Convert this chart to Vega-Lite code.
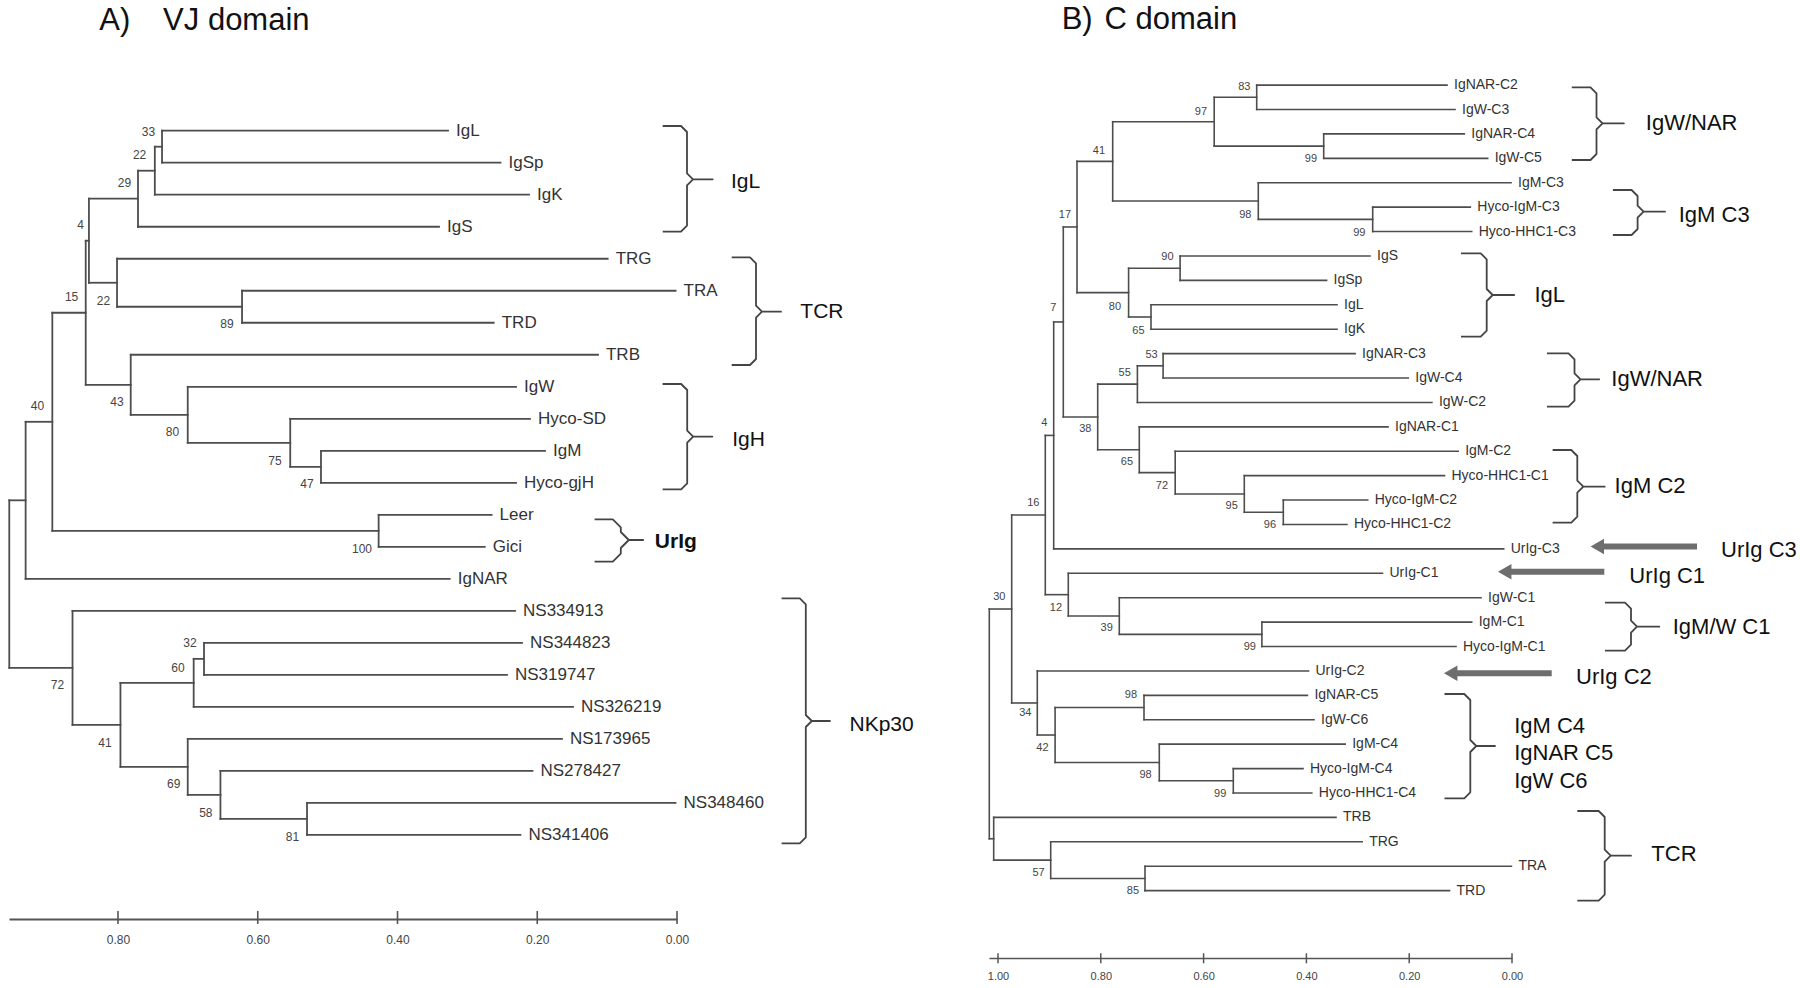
{
  "$schema": "https://vega.github.io/schema/vega-lite/v6.json",
  "background": "white",
  "padding": {"left": 8, "top": 0, "right": 0, "bottom": 0},
  "autosize": {"type": "pad"},
  "bounds": "flush",
  "spacing": 312,
  "config": {"view": {"stroke": null}, "font": "Liberation Sans"},
  "datasets": {
    "segA": [
      {"x":0.9556,"x2":0.9556,"y":11.547,"y2":16.78},
      {"x":0.9556,"x2":0.9322,"y":11.547,"y2":11.547},
      {"x":0.9556,"x2":0.8651,"y":16.78,"y2":16.78},
      {"x":0.9322,"x2":0.9322,"y":9.094,"y2":14},
      {"x":0.9322,"x2":0.894,"y":9.094,"y2":9.094},
      {"x":0.9322,"x2":0.3253,"y":14,"y2":14},
      {"x":0.894,"x2":0.894,"y":5.6875,"y2":12.5},
      {"x":0.894,"x2":0.8462,"y":5.6875,"y2":5.6875},
      {"x":0.894,"x2":0.427,"y":12.5,"y2":12.5},
      {"x":0.8462,"x2":0.8462,"y":3.4375,"y2":7.9375},
      {"x":0.8462,"x2":0.8416,"y":3.4375,"y2":3.4375},
      {"x":0.8462,"x2":0.7818,"y":7.9375,"y2":7.9375},
      {"x":0.8416,"x2":0.8416,"y":2.125,"y2":4.75},
      {"x":0.8416,"x2":0.7714,"y":2.125,"y2":2.125},
      {"x":0.8416,"x2":0.8014,"y":4.75,"y2":4.75},
      {"x":0.7714,"x2":0.7714,"y":1.25,"y2":3},
      {"x":0.7714,"x2":0.7473,"y":1.25,"y2":1.25},
      {"x":0.7714,"x2":0.3406,"y":3,"y2":3},
      {"x":0.7473,"x2":0.7473,"y":0.5,"y2":2},
      {"x":0.7473,"x2":0.737,"y":0.5,"y2":0.5},
      {"x":0.7473,"x2":0.2118,"y":2,"y2":2},
      {"x":0.737,"x2":0.737,"y":0,"y2":1},
      {"x":0.737,"x2":0.3277,"y":0,"y2":0},
      {"x":0.737,"x2":0.2526,"y":1,"y2":1},
      {"x":0.8014,"x2":0.8014,"y":4,"y2":5.5},
      {"x":0.8014,"x2":0.0992,"y":4,"y2":4},
      {"x":0.8014,"x2":0.6225,"y":5.5,"y2":5.5},
      {"x":0.6225,"x2":0.6225,"y":5,"y2":6},
      {"x":0.6225,"x2":0.002,"y":5,"y2":5},
      {"x":0.6225,"x2":0.2623,"y":6,"y2":6},
      {"x":0.7818,"x2":0.7818,"y":7,"y2":8.875},
      {"x":0.7818,"x2":0.1131,"y":7,"y2":7},
      {"x":0.7818,"x2":0.7002,"y":8.875,"y2":8.875},
      {"x":0.7002,"x2":0.7002,"y":8,"y2":9.75},
      {"x":0.7002,"x2":0.2304,"y":8,"y2":8},
      {"x":0.7002,"x2":0.5535,"y":9.75,"y2":9.75},
      {"x":0.5535,"x2":0.5535,"y":9,"y2":10.5},
      {"x":0.5535,"x2":0.2104,"y":9,"y2":9},
      {"x":0.5535,"x2":0.5095,"y":10.5,"y2":10.5},
      {"x":0.5095,"x2":0.5095,"y":10,"y2":11},
      {"x":0.5095,"x2":0.1889,"y":10,"y2":10},
      {"x":0.5095,"x2":0.2304,"y":11,"y2":11},
      {"x":0.427,"x2":0.427,"y":12,"y2":13},
      {"x":0.427,"x2":0.2653,"y":12,"y2":12},
      {"x":0.427,"x2":0.2751,"y":13,"y2":13},
      {"x":0.8651,"x2":0.8651,"y":15,"y2":18.5625},
      {"x":0.8651,"x2":0.2318,"y":15,"y2":15},
      {"x":0.8651,"x2":0.7965,"y":18.5625,"y2":18.5625},
      {"x":0.7965,"x2":0.7965,"y":17.25,"y2":19.875},
      {"x":0.7965,"x2":0.6917,"y":17.25,"y2":17.25},
      {"x":0.7965,"x2":0.7002,"y":19.875,"y2":19.875},
      {"x":0.6917,"x2":0.6917,"y":16.5,"y2":18},
      {"x":0.6917,"x2":0.6769,"y":16.5,"y2":16.5},
      {"x":0.6917,"x2":0.1488,"y":18,"y2":18},
      {"x":0.6769,"x2":0.6769,"y":16,"y2":17},
      {"x":0.6769,"x2":0.2218,"y":16,"y2":16},
      {"x":0.6769,"x2":0.2433,"y":17,"y2":17},
      {"x":0.7002,"x2":0.7002,"y":19,"y2":20.75},
      {"x":0.7002,"x2":0.1646,"y":19,"y2":19},
      {"x":0.7002,"x2":0.6534,"y":20.75,"y2":20.75},
      {"x":0.6534,"x2":0.6534,"y":20,"y2":21.5},
      {"x":0.6534,"x2":0.2068,"y":20,"y2":20},
      {"x":0.6534,"x2":0.5295,"y":21.5,"y2":21.5},
      {"x":0.5295,"x2":0.5295,"y":21,"y2":22},
      {"x":0.5295,"x2":0.0021,"y":21,"y2":21},
      {"x":0.5295,"x2":0.2241,"y":22,"y2":22}
    ],
    "leafA": [
      {"name":"IgL","x":0.3277,"y":0},
      {"name":"IgSp","x":0.2526,"y":1},
      {"name":"IgK","x":0.2118,"y":2},
      {"name":"IgS","x":0.3406,"y":3},
      {"name":"TRG","x":0.0992,"y":4},
      {"name":"TRA","x":0.002,"y":5},
      {"name":"TRD","x":0.2623,"y":6},
      {"name":"TRB","x":0.1131,"y":7},
      {"name":"IgW","x":0.2304,"y":8},
      {"name":"Hyco-SD","x":0.2104,"y":9},
      {"name":"IgM","x":0.1889,"y":10},
      {"name":"Hyco-gjH","x":0.2304,"y":11},
      {"name":"Leer","x":0.2653,"y":12},
      {"name":"Gici","x":0.2751,"y":13},
      {"name":"IgNAR","x":0.3253,"y":14},
      {"name":"NS334913","x":0.2318,"y":15},
      {"name":"NS344823","x":0.2218,"y":16},
      {"name":"NS319747","x":0.2433,"y":17},
      {"name":"NS326219","x":0.1488,"y":18},
      {"name":"NS173965","x":0.1646,"y":19},
      {"name":"NS278427","x":0.2068,"y":20},
      {"name":"NS348460","x":0.0021,"y":21},
      {"name":"NS341406","x":0.2241,"y":22}
    ],
    "bootA": [
      {"t":"33","x":0.7563,"y":0.031},
      {"t":"22","x":0.7691,"y":0.759},
      {"t":"29","x":0.7908,"y":1.624},
      {"t":"4","x":0.8536,"y":2.946},
      {"t":"15","x":0.8664,"y":5.186},
      {"t":"22","x":0.8207,"y":5.32},
      {"t":"89","x":0.644,"y":6.039},
      {"t":"40","x":0.9153,"y":8.6},
      {"t":"43","x":0.8014,"y":8.466},
      {"t":"80","x":0.722,"y":9.413},
      {"t":"75","x":0.5753,"y":10.328},
      {"t":"47","x":0.5295,"y":11.037},
      {"t":"100","x":0.4508,"y":13.058},
      {"t":"72","x":0.8867,"y":17.326},
      {"t":"32","x":0.697,"y":16.014},
      {"t":"60","x":0.7141,"y":16.786},
      {"t":"41","x":0.8186,"y":19.119},
      {"t":"69","x":0.7203,"y":20.409},
      {"t":"58","x":0.6743,"y":21.325},
      {"t":"81","x":0.5503,"y":22.056}
    ],
    "braceA": [
      {"b":"A1","k":1,"x":0.02047,"y":-0.1468},{"b":"A1","k":2,"x":-0.00572,"y":-0.1468},{"b":"A1","k":3,"x":-0.01431,"y":0.0406},{"b":"A1","k":4,"x":-0.01431,"y":1.3309},{"b":"A1","k":5,"x":-0.0229,"y":1.5183},{"b":"A1","k":6,"x":-0.05109,"y":1.5183},{"b":"A1","k":7,"x":-0.0229,"y":1.5183},{"b":"A1","k":8,"x":-0.01431,"y":1.7057},{"b":"A1","k":9,"x":-0.01431,"y":2.9679},{"b":"A1","k":10,"x":-0.00572,"y":3.1553},{"b":"A1","k":11,"x":0.02047,"y":3.1553},
      {"b":"A2","k":1,"x":-0.07828,"y":3.955},{"b":"A2","k":2,"x":-0.10447,"y":3.955},{"b":"A2","k":3,"x":-0.11306,"y":4.1424},{"b":"A2","k":4,"x":-0.11306,"y":5.4671},{"b":"A2","k":5,"x":-0.12165,"y":5.6545},{"b":"A2","k":6,"x":-0.14884,"y":5.6545},{"b":"A2","k":7,"x":-0.12165,"y":5.6545},{"b":"A2","k":8,"x":-0.11306,"y":5.8419},{"b":"A2","k":9,"x":-0.11306,"y":7.1322},{"b":"A2","k":10,"x":-0.10447,"y":7.3196},{"b":"A2","k":11,"x":-0.07828,"y":7.3196},
      {"b":"A3","k":1,"x":0.02061,"y":7.9131},{"b":"A3","k":2,"x":-0.00601,"y":7.9131},{"b":"A3","k":3,"x":-0.0146,"y":8.1005},{"b":"A3","k":4,"x":-0.0146,"y":9.3721},{"b":"A3","k":5,"x":-0.02319,"y":9.5595},{"b":"A3","k":6,"x":-0.05052,"y":9.5595},{"b":"A3","k":7,"x":-0.02319,"y":9.5595},{"b":"A3","k":8,"x":-0.0146,"y":9.7469},{"b":"A3","k":9,"x":-0.0146,"y":11.0153},{"b":"A3","k":10,"x":-0.00601,"y":11.2027},{"b":"A3","k":11,"x":0.02061,"y":11.2027},
      {"b":"A4","k":1,"x":0.11793,"y":12.1399},{"b":"A4","k":2,"x":0.09188,"y":12.1399},{"b":"A4","k":3,"x":0.08043,"y":12.3898},{"b":"A4","k":4,"x":0.08043,"y":12.5367},{"b":"A4","k":5,"x":0.06898,"y":12.7866},{"b":"A4","k":6,"x":0.04837,"y":12.7866},{"b":"A4","k":7,"x":0.06898,"y":12.7866},{"b":"A4","k":8,"x":0.08043,"y":13.0365},{"b":"A4","k":9,"x":0.08043,"y":13.2147},{"b":"A4","k":10,"x":0.09188,"y":13.4646},{"b":"A4","k":11,"x":0.11793,"y":13.4646},
      {"b":"A5","k":1,"x":-0.1497,"y":14.6079},{"b":"A5","k":2,"x":-0.17574,"y":14.6079},{"b":"A5","k":3,"x":-0.18433,"y":14.7953},{"b":"A5","k":4,"x":-0.18433,"y":18.2537},{"b":"A5","k":5,"x":-0.19292,"y":18.4411},{"b":"A5","k":6,"x":-0.21896,"y":18.4411},{"b":"A5","k":7,"x":-0.19292,"y":18.4411},{"b":"A5","k":8,"x":-0.18433,"y":18.6285},{"b":"A5","k":9,"x":-0.18433,"y":22.0744},{"b":"A5","k":10,"x":-0.17574,"y":22.2618},{"b":"A5","k":11,"x":-0.1497,"y":22.2618}
    ],
    "groupA": [
      {"t":"IgL","x":-0.07728,"y":1.6026},
      {"t":"TCR","x":-0.17646,"y":5.6639},
      {"t":"IgH","x":-0.079,"y":9.6626},
      {"t":"NKp30","x":-0.24687,"y":18.5661}
    ],
    "groupAbold": [
      {"t":"UrIg","x":0.03177,"y":12.8397}
    ],
    "titleA": [
      {"t":"A)","x":0.82677,"y":-3.1615},
      {"t":"VJ domain","x":0.73546,"y":-3.1615}
    ],
    "tickA": [
      {"x":0.8,"y":24.3767,"y2":24.7829},
      {"x":0.6,"y":24.3767,"y2":24.7829},
      {"x":0.4,"y":24.3767,"y2":24.7829},
      {"x":0.2,"y":24.3767,"y2":24.7829},
      {"x":0,"y":24.3767,"y2":24.7829}
    ],
    "segB": [
      {"x":1.01693,"x2":1.01693,"y":21.4629,"y2":30.875},
      {"x":1.01693,"x2":0.97335,"y":21.4629,"y2":21.4629},
      {"x":1.01693,"x2":1.00837,"y":30.875,"y2":30.875},
      {"x":0.97335,"x2":0.97335,"y":17.6133,"y2":25.3125},
      {"x":0.97335,"x2":0.90798,"y":17.6133,"y2":17.6133},
      {"x":0.97335,"x2":0.92354,"y":25.3125,"y2":25.3125},
      {"x":0.90798,"x2":0.90798,"y":14.3516,"y2":20.875},
      {"x":0.90798,"x2":0.89163,"y":14.3516,"y2":14.3516},
      {"x":0.90798,"x2":0.86323,"y":20.875,"y2":20.875},
      {"x":0.89163,"x2":0.89163,"y":9.7031,"y2":19},
      {"x":0.89163,"x2":0.87296,"y":9.7031,"y2":9.7031},
      {"x":0.89163,"x2":0.01615,"y":19,"y2":19},
      {"x":0.87296,"x2":0.87296,"y":5.8125,"y2":13.5938},
      {"x":0.87296,"x2":0.8463,"y":5.8125,"y2":5.8125},
      {"x":0.87296,"x2":0.80603,"y":13.5938,"y2":13.5938},
      {"x":0.8463,"x2":0.8463,"y":3.125,"y2":8.5},
      {"x":0.8463,"x2":0.77685,"y":3.125,"y2":3.125},
      {"x":0.8463,"x2":0.74591,"y":8.5,"y2":8.5},
      {"x":0.77685,"x2":0.77685,"y":1.5,"y2":4.75},
      {"x":0.77685,"x2":0.57938,"y":1.5,"y2":1.5},
      {"x":0.77685,"x2":0.49358,"y":4.75,"y2":4.75},
      {"x":0.57938,"x2":0.57938,"y":0.5,"y2":2.5},
      {"x":0.57938,"x2":0.49669,"y":0.5,"y2":0.5},
      {"x":0.57938,"x2":0.36634,"y":2.5,"y2":2.5},
      {"x":0.49669,"x2":0.49669,"y":0,"y2":1},
      {"x":0.49669,"x2":0.12646,"y":0,"y2":0},
      {"x":0.49669,"x2":0.11089,"y":1,"y2":1},
      {"x":0.36634,"x2":0.36634,"y":2,"y2":3},
      {"x":0.36634,"x2":0.0928,"y":2,"y2":2},
      {"x":0.36634,"x2":0.04728,"y":3,"y2":3},
      {"x":0.49358,"x2":0.49358,"y":4,"y2":5.5},
      {"x":0.49358,"x2":0.00195,"y":4,"y2":4},
      {"x":0.49358,"x2":0.27101,"y":5.5,"y2":5.5},
      {"x":0.27101,"x2":0.27101,"y":5,"y2":6},
      {"x":0.27101,"x2":0.08113,"y":5,"y2":5},
      {"x":0.27101,"x2":0.0784,"y":6,"y2":6},
      {"x":0.74591,"x2":0.74591,"y":7.5,"y2":9.5},
      {"x":0.74591,"x2":0.64572,"y":7.5,"y2":7.5},
      {"x":0.74591,"x2":0.70233,"y":9.5,"y2":9.5},
      {"x":0.64572,"x2":0.64572,"y":7,"y2":8},
      {"x":0.64572,"x2":0.27626,"y":7,"y2":7},
      {"x":0.64572,"x2":0.3607,"y":8,"y2":8},
      {"x":0.70233,"x2":0.70233,"y":9,"y2":10},
      {"x":0.70233,"x2":0.34047,"y":9,"y2":9},
      {"x":0.70233,"x2":0.34047,"y":10,"y2":10},
      {"x":0.80603,"x2":0.80603,"y":12.25,"y2":14.9375},
      {"x":0.80603,"x2":0.72879,"y":12.25,"y2":12.25},
      {"x":0.80603,"x2":0.7251,"y":14.9375,"y2":14.9375},
      {"x":0.72879,"x2":0.72879,"y":11.5,"y2":13},
      {"x":0.72879,"x2":0.67879,"y":11.5,"y2":11.5},
      {"x":0.72879,"x2":0.15584,"y":13,"y2":13},
      {"x":0.67879,"x2":0.67879,"y":11,"y2":12},
      {"x":0.67879,"x2":0.30525,"y":11,"y2":11},
      {"x":0.67879,"x2":0.20175,"y":12,"y2":12},
      {"x":0.7251,"x2":0.7251,"y":14,"y2":15.875},
      {"x":0.7251,"x2":0.24125,"y":14,"y2":14},
      {"x":0.7251,"x2":0.65525,"y":15.875,"y2":15.875},
      {"x":0.65525,"x2":0.65525,"y":15,"y2":16.75},
      {"x":0.65525,"x2":0.10467,"y":15,"y2":15},
      {"x":0.65525,"x2":0.52082,"y":16.75,"y2":16.75},
      {"x":0.52082,"x2":0.52082,"y":16,"y2":17.5},
      {"x":0.52082,"x2":0.13132,"y":16,"y2":16},
      {"x":0.52082,"x2":0.44494,"y":17.5,"y2":17.5},
      {"x":0.44494,"x2":0.44494,"y":17,"y2":18},
      {"x":0.44494,"x2":0.28074,"y":17,"y2":17},
      {"x":0.44494,"x2":0.32121,"y":18,"y2":18},
      {"x":0.86323,"x2":0.86323,"y":20,"y2":21.75},
      {"x":0.86323,"x2":0.25195,"y":20,"y2":20},
      {"x":0.86323,"x2":0.76401,"y":21.75,"y2":21.75},
      {"x":0.76401,"x2":0.76401,"y":21,"y2":22.5},
      {"x":0.76401,"x2":0.06031,"y":21,"y2":21},
      {"x":0.76401,"x2":0.48658,"y":22.5,"y2":22.5},
      {"x":0.48658,"x2":0.48658,"y":22,"y2":23},
      {"x":0.48658,"x2":0.0784,"y":22,"y2":22},
      {"x":0.48658,"x2":0.10895,"y":23,"y2":23},
      {"x":0.92354,"x2":0.92354,"y":24,"y2":26.625},
      {"x":0.92354,"x2":0.39591,"y":24,"y2":24},
      {"x":0.92354,"x2":0.88891,"y":26.625,"y2":26.625},
      {"x":0.88891,"x2":0.88891,"y":25.5,"y2":27.75},
      {"x":0.88891,"x2":0.71595,"y":25.5,"y2":25.5},
      {"x":0.88891,"x2":0.68619,"y":27.75,"y2":27.75},
      {"x":0.71595,"x2":0.71595,"y":25,"y2":26},
      {"x":0.71595,"x2":0.39805,"y":25,"y2":25},
      {"x":0.71595,"x2":0.38521,"y":26,"y2":26},
      {"x":0.68619,"x2":0.68619,"y":27,"y2":28.5},
      {"x":0.68619,"x2":0.32451,"y":27,"y2":27},
      {"x":0.68619,"x2":0.54222,"y":28.5,"y2":28.5},
      {"x":0.54222,"x2":0.54222,"y":28,"y2":29},
      {"x":0.54222,"x2":0.40661,"y":28,"y2":28},
      {"x":0.54222,"x2":0.38949,"y":29,"y2":29},
      {"x":1.00837,"x2":1.00837,"y":30,"y2":31.75},
      {"x":1.00837,"x2":0.34241,"y":30,"y2":30},
      {"x":1.00837,"x2":0.89747,"y":31.75,"y2":31.75},
      {"x":0.89747,"x2":0.89747,"y":31,"y2":32.5},
      {"x":0.89747,"x2":0.29144,"y":31,"y2":31},
      {"x":0.89747,"x2":0.71401,"y":32.5,"y2":32.5},
      {"x":0.71401,"x2":0.71401,"y":32,"y2":33},
      {"x":0.71401,"x2":0.00117,"y":32,"y2":32},
      {"x":0.71401,"x2":0.1216,"y":33,"y2":33}
    ],
    "leafB": [
      {"name":"IgNAR-C2","x":0.12646,"y":0},
      {"name":"IgW-C3","x":0.11089,"y":1},
      {"name":"IgNAR-C4","x":0.0928,"y":2},
      {"name":"IgW-C5","x":0.04728,"y":3},
      {"name":"IgM-C3","x":0.00195,"y":4},
      {"name":"Hyco-IgM-C3","x":0.08113,"y":5},
      {"name":"Hyco-HHC1-C3","x":0.0784,"y":6},
      {"name":"IgS","x":0.27626,"y":7},
      {"name":"IgSp","x":0.3607,"y":8},
      {"name":"IgL","x":0.34047,"y":9},
      {"name":"IgK","x":0.34047,"y":10},
      {"name":"IgNAR-C3","x":0.30525,"y":11},
      {"name":"IgW-C4","x":0.20175,"y":12},
      {"name":"IgW-C2","x":0.15584,"y":13},
      {"name":"IgNAR-C1","x":0.24125,"y":14},
      {"name":"IgM-C2","x":0.10467,"y":15},
      {"name":"Hyco-HHC1-C1","x":0.13132,"y":16},
      {"name":"Hyco-IgM-C2","x":0.28074,"y":17},
      {"name":"Hyco-HHC1-C2","x":0.32121,"y":18},
      {"name":"UrIg-C3","x":0.01615,"y":19},
      {"name":"UrIg-C1","x":0.25195,"y":20},
      {"name":"IgW-C1","x":0.06031,"y":21},
      {"name":"IgM-C1","x":0.0784,"y":22},
      {"name":"Hyco-IgM-C1","x":0.10895,"y":23},
      {"name":"UrIg-C2","x":0.39591,"y":24},
      {"name":"IgNAR-C5","x":0.39805,"y":25},
      {"name":"IgW-C6","x":0.38521,"y":26},
      {"name":"IgM-C4","x":0.32451,"y":27},
      {"name":"Hyco-IgM-C4","x":0.40661,"y":28},
      {"name":"Hyco-HHC1-C4","x":0.38949,"y":29},
      {"name":"TRB","x":0.34241,"y":30},
      {"name":"TRG","x":0.29144,"y":31},
      {"name":"TRA","x":0.00117,"y":32},
      {"name":"TRD","x":0.1216,"y":33}
    ],
    "bootB": [
      {"t":"83","x":0.52082,"y":0.0655},
      {"t":"97","x":0.60506,"y":1.0897},
      {"t":"99","x":0.39105,"y":3.0397},
      {"t":"41","x":0.8035,"y":2.6874},
      {"t":"98","x":0.51887,"y":5.3216},
      {"t":"99","x":0.29708,"y":6.0467},
      {"t":"17","x":0.86965,"y":5.3216},
      {"t":"90","x":0.67023,"y":7.0545},
      {"t":"80","x":0.77257,"y":9.0782},
      {"t":"65","x":0.72665,"y":10.0614},
      {"t":"7","x":0.89222,"y":9.1438},
      {"t":"53","x":0.70117,"y":11.0569},
      {"t":"55","x":0.7535,"y":11.8066},
      {"t":"38","x":0.83016,"y":14.1008},
      {"t":"65","x":0.74903,"y":15.4281},
      {"t":"4","x":0.90992,"y":13.8304},
      {"t":"72","x":0.68093,"y":16.4236},
      {"t":"95","x":0.54533,"y":17.2429},
      {"t":"96","x":0.47082,"y":18.0213},
      {"t":"16","x":0.93132,"y":17.1077},
      {"t":"12","x":0.88716,"y":21.4093},
      {"t":"39","x":0.78852,"y":22.2532},
      {"t":"99","x":0.51012,"y":23.007},
      {"t":"30","x":0.99747,"y":20.9586},
      {"t":"34","x":0.94689,"y":25.7353},
      {"t":"98","x":0.74125,"y":24.9857},
      {"t":"42","x":0.91342,"y":27.1446},
      {"t":"98","x":0.71284,"y":28.263},
      {"t":"99","x":0.5677,"y":29.0414},
      {"t":"57","x":0.92101,"y":32.2655},
      {"t":"85","x":0.73735,"y":33.0152}
    ],
    "braceB": [
      {"b":"B1","k":1,"x":-0.11634,"y":0.0901},{"b":"B1","k":2,"x":-0.15273,"y":0.0901},{"b":"B1","k":3,"x":-0.1644,"y":0.3359},{"b":"B1","k":4,"x":-0.1644,"y":1.3191},{"b":"B1","k":5,"x":-0.17607,"y":1.5649},{"b":"B1","k":6,"x":-0.2177,"y":1.5649},{"b":"B1","k":7,"x":-0.17607,"y":1.5649},{"b":"B1","k":8,"x":-0.1644,"y":1.8107},{"b":"B1","k":9,"x":-0.1644,"y":2.8226},{"b":"B1","k":10,"x":-0.15273,"y":3.0684},{"b":"B1","k":11,"x":-0.11634,"y":3.0684},
      {"b":"B2","k":1,"x":-0.1963,"y":4.2974},{"b":"B2","k":2,"x":-0.23269,"y":4.2974},{"b":"B2","k":3,"x":-0.24436,"y":4.5432},{"b":"B2","k":4,"x":-0.24436,"y":4.9406},{"b":"B2","k":5,"x":-0.25603,"y":5.1864},{"b":"B2","k":6,"x":-0.29767,"y":5.1864},{"b":"B2","k":7,"x":-0.25603,"y":5.1864},{"b":"B2","k":8,"x":-0.24436,"y":5.4322},{"b":"B2","k":9,"x":-0.24436,"y":5.8951},{"b":"B2","k":10,"x":-0.23269,"y":6.1409},{"b":"B2","k":11,"x":-0.1963,"y":6.1409},
      {"b":"B3","k":1,"x":0.09922,"y":6.8906},{"b":"B3","k":2,"x":0.06089,"y":6.8906},{"b":"B3","k":3,"x":0.04922,"y":7.1364},{"b":"B3","k":4,"x":0.04922,"y":8.3531},{"b":"B3","k":5,"x":0.03755,"y":8.5989},{"b":"B3","k":6,"x":-0.00428,"y":8.5989},{"b":"B3","k":7,"x":0.03755,"y":8.5989},{"b":"B3","k":8,"x":0.04922,"y":8.8447},{"b":"B3","k":9,"x":0.04922,"y":10.0614},{"b":"B3","k":10,"x":0.06089,"y":10.3072},{"b":"B3","k":11,"x":0.09922,"y":10.3072},
      {"b":"B4","k":1,"x":-0.06809,"y":10.9873},{"b":"B4","k":2,"x":-0.10993,"y":10.9873},{"b":"B4","k":3,"x":-0.1216,"y":11.2331},{"b":"B4","k":4,"x":-0.1216,"y":11.8066},{"b":"B4","k":5,"x":-0.13327,"y":12.0524},{"b":"B4","k":6,"x":-0.16965,"y":12.0524},{"b":"B4","k":7,"x":-0.13327,"y":12.0524},{"b":"B4","k":8,"x":-0.1216,"y":12.2982},{"b":"B4","k":9,"x":-0.1216,"y":12.9291},{"b":"B4","k":10,"x":-0.10993,"y":13.1749},{"b":"B4","k":11,"x":-0.06809,"y":13.1749},
      {"b":"B5","k":1,"x":-0.07899,"y":14.9488},{"b":"B5","k":2,"x":-0.11537,"y":14.9488},{"b":"B5","k":3,"x":-0.12704,"y":15.1946},{"b":"B5","k":4,"x":-0.12704,"y":16.2065},{"b":"B5","k":5,"x":-0.13871,"y":16.4523},{"b":"B5","k":6,"x":-0.18035,"y":16.4523},{"b":"B5","k":7,"x":-0.13871,"y":16.4523},{"b":"B5","k":8,"x":-0.12704,"y":16.6981},{"b":"B5","k":9,"x":-0.12704,"y":17.6813},{"b":"B5","k":10,"x":-0.11537,"y":17.9271},{"b":"B5","k":11,"x":-0.07899,"y":17.9271},
      {"b":"B6","k":1,"x":-0.18093,"y":21.2044},{"b":"B6","k":2,"x":-0.21985,"y":21.2044},{"b":"B6","k":3,"x":-0.23152,"y":21.4502},{"b":"B6","k":4,"x":-0.23152,"y":21.9418},{"b":"B6","k":5,"x":-0.24319,"y":22.1876},{"b":"B6","k":6,"x":-0.28658,"y":22.1876},{"b":"B6","k":7,"x":-0.24319,"y":22.1876},{"b":"B6","k":8,"x":-0.23152,"y":22.4334},{"b":"B6","k":9,"x":-0.23152,"y":22.925},{"b":"B6","k":10,"x":-0.21985,"y":23.1708},{"b":"B6","k":11,"x":-0.18093,"y":23.1708},
      {"b":"B7","k":1,"x":0.13132,"y":24.9447},{"b":"B7","k":2,"x":0.0928,"y":24.9447},{"b":"B7","k":3,"x":0.08113,"y":25.1905},{"b":"B7","k":4,"x":0.08113,"y":26.8292},{"b":"B7","k":5,"x":0.06946,"y":27.075},{"b":"B7","k":6,"x":0.03307,"y":27.075},{"b":"B7","k":7,"x":0.06946,"y":27.075},{"b":"B7","k":8,"x":0.08113,"y":27.3208},{"b":"B7","k":9,"x":0.08113,"y":28.9717},{"b":"B7","k":10,"x":0.0928,"y":29.2175},{"b":"B7","k":11,"x":0.13132,"y":29.2175},
      {"b":"B8","k":1,"x":-0.12704,"y":29.7378},{"b":"B8","k":2,"x":-0.16868,"y":29.7378},{"b":"B8","k":3,"x":-0.18035,"y":29.9836},{"b":"B8","k":4,"x":-0.18035,"y":31.3232},{"b":"B8","k":5,"x":-0.19202,"y":31.569},{"b":"B8","k":6,"x":-0.23152,"y":31.569},{"b":"B8","k":7,"x":-0.19202,"y":31.569},{"b":"B8","k":8,"x":-0.18035,"y":31.8148},{"b":"B8","k":9,"x":-0.18035,"y":33.1667},{"b":"B8","k":10,"x":-0.16868,"y":33.4125},{"b":"B8","k":11,"x":-0.12704,"y":33.4125}
    ],
    "groupB": [
      {"t":"IgW/NAR","x":-0.26031,"y":1.5649},
      {"t":"IgM C3","x":-0.32432,"y":5.3216},
      {"t":"IgL","x":-0.04377,"y":8.5989},
      {"t":"IgW/NAR","x":-0.19319,"y":12.0524},
      {"t":"IgM C2","x":-0.19961,"y":16.4236},
      {"t":"IgM/W C1","x":-0.31265,"y":22.2122},
      {"t":"IgM C4","x":-0.00428,"y":26.2556},
      {"t":"IgNAR C5","x":-0.00428,"y":27.374},
      {"t":"IgW C6","x":-0.00428,"y":28.5088},
      {"t":"TCR","x":-0.27101,"y":31.4994},
      {"t":"UrIg C3","x":-0.40661,"y":19.0455},
      {"t":"UrIg C1","x":-0.22821,"y":20.1106},
      {"t":"UrIg C2","x":-0.12451,"y":24.2606}
    ],
    "shaftB": [
      {"x":-0.17315,"x2":-0.35992,"y":18.905},
      {"x":0.00778,"x2":-0.17957,"y":19.934},
      {"x":0.11284,"x2":-0.07724,"y":24.096}
    ],
    "headB": [
      {"x":-0.16595,"y":18.905},
      {"x":0.0142,"y":19.934},
      {"x":0.11926,"y":24.096}
    ],
    "titleB": [
      {"t":"B)","x":0.87607,"y":-2.2778},
      {"t":"C domain","x":0.7928,"y":-2.2778}
    ],
    "tickB": [
      {"x":1,"y":35.5674,"y2":35.9771},
      {"x":0.8,"y":35.5674,"y2":35.9771},
      {"x":0.6,"y":35.5674,"y2":35.9771},
      {"x":0.4,"y":35.5674,"y2":35.9771},
      {"x":0.2,"y":35.5674,"y2":35.9771},
      {"x":0,"y":35.5674,"y2":35.9771}
    ]
  },
  "hconcat": [
    {
      "width": 668,
      "height": 919,
      "encoding": {
        "x": {"field": "x", "type": "quantitative",
          "scale": {"domain": [0, 0.956], "reverse": true, "nice": false, "zero": false},
          "axis": {"values": [0.8, 0.6, 0.4, 0.2, 0], "format": ".2f", "title": null, "grid": false, "ticks": false, "tickSize": 0, "domainColor": "#555555", "domainWidth": 1.8, "labelFontSize": 12, "labelColor": "#444444", "labelPadding": 15, "labelFont": "Liberation Sans", "labelFlush": false, "labelOverlap": false}},
        "y": {"field": "y", "type": "quantitative",
          "scale": {"domain": [-4.0831, 24.6267], "reverse": true, "nice": false, "zero": false},
          "axis": null}
      },
      "layer": [
        {"data": {"name": "segA"}, "mark": {"type": "rule", "color": "#4d4d4d", "strokeWidth": 1.8, "strokeCap": "square"},
         "encoding": {"x2": {"field": "x2"}, "y2": {"field": "y2"}}},
        {"data": {"name": "tickA"}, "mark": {"type": "rule", "color": "#555555", "strokeWidth": 1.6},
         "encoding": {"y2": {"field": "y2"}}},
        {"data": {"name": "leafA"}, "mark": {"type": "text", "align": "left", "baseline": "middle", "dx": 8, "fontSize": 17, "color": "#333333", "font": "Liberation Sans"},
         "encoding": {"text": {"field": "name"}}},
        {"data": {"name": "bootA"}, "mark": {"type": "text", "align": "center", "baseline": "middle", "fontSize": 12, "color": "#444444", "font": "Liberation Sans"},
         "encoding": {"text": {"field": "t"}}},
        {"data": {"name": "braceA"}, "mark": {"type": "line", "color": "#444444", "strokeWidth": 1.8, "strokeJoin": "round"},
         "encoding": {"order": {"field": "k", "type": "quantitative"}, "detail": {"field": "b", "type": "nominal"}}},
        {"data": {"name": "groupA"}, "mark": {"type": "text", "align": "left", "baseline": "middle", "fontSize": 21, "color": "#111111", "font": "Liberation Sans"},
         "encoding": {"text": {"field": "t"}}},
        {"data": {"name": "groupAbold"}, "mark": {"type": "text", "align": "left", "baseline": "middle", "fontSize": 21, "fontWeight": "bold", "color": "#111111", "font": "Liberation Sans"},
         "encoding": {"text": {"field": "t"}}},
        {"data": {"name": "titleA"}, "mark": {"type": "text", "align": "left", "baseline": "alphabetic", "fontSize": 31, "color": "#111111", "font": "Liberation Sans"},
         "encoding": {"text": {"field": "t"}}}
      ]
    },
    {
      "width": 523,
      "height": 958,
      "encoding": {
        "x": {"field": "x", "type": "quantitative",
          "scale": {"domain": [0, 1.0175], "reverse": true, "nice": false, "zero": false},
          "axis": {"values": [1, 0.8, 0.6, 0.4, 0.2, 0], "format": ".2f", "title": null, "grid": false, "ticks": false, "tickSize": 0, "domainColor": "#555555", "domainWidth": 1.6, "labelFontSize": 11, "labelColor": "#444444", "labelPadding": 12, "labelFont": "Liberation Sans", "labelFlush": false, "labelOverlap": false}},
        "y": {"field": "y", "type": "quantitative",
          "scale": {"domain": [-3.4863, 35.7599], "reverse": true, "nice": false, "zero": false},
          "axis": null}
      },
      "layer": [
        {"data": {"name": "segB"}, "mark": {"type": "rule", "color": "#4d4d4d", "strokeWidth": 1.6, "strokeCap": "square"},
         "encoding": {"x2": {"field": "x2"}, "y2": {"field": "y2"}}},
        {"data": {"name": "tickB"}, "mark": {"type": "rule", "color": "#555555", "strokeWidth": 1.5},
         "encoding": {"y2": {"field": "y2"}}},
        {"data": {"name": "leafB"}, "mark": {"type": "text", "align": "left", "baseline": "middle", "dx": 7, "fontSize": 14, "color": "#333333", "font": "Liberation Sans"},
         "encoding": {"text": {"field": "name"}}},
        {"data": {"name": "bootB"}, "mark": {"type": "text", "align": "center", "baseline": "middle", "fontSize": 11, "color": "#444444", "font": "Liberation Sans"},
         "encoding": {"text": {"field": "t"}}},
        {"data": {"name": "braceB"}, "mark": {"type": "line", "color": "#444444", "strokeWidth": 1.8, "strokeJoin": "round"},
         "encoding": {"order": {"field": "k", "type": "quantitative"}, "detail": {"field": "b", "type": "nominal"}}},
        {"data": {"name": "shaftB"}, "mark": {"type": "rule", "color": "#6e6e6e", "strokeWidth": 6},
         "encoding": {"x2": {"field": "x2"}}},
        {"data": {"name": "headB"}, "mark": {"type": "point", "shape": "triangle-left", "size": 240, "filled": true, "color": "#6e6e6e", "opacity": 1},
         "encoding": {}},
        {"data": {"name": "groupB"}, "mark": {"type": "text", "align": "left", "baseline": "middle", "fontSize": 22, "color": "#111111", "font": "Liberation Sans"},
         "encoding": {"text": {"field": "t"}}},
        {"data": {"name": "titleB"}, "mark": {"type": "text", "align": "left", "baseline": "alphabetic", "fontSize": 31, "color": "#111111", "font": "Liberation Sans"},
         "encoding": {"text": {"field": "t"}}}
      ]
    }
  ]
}
